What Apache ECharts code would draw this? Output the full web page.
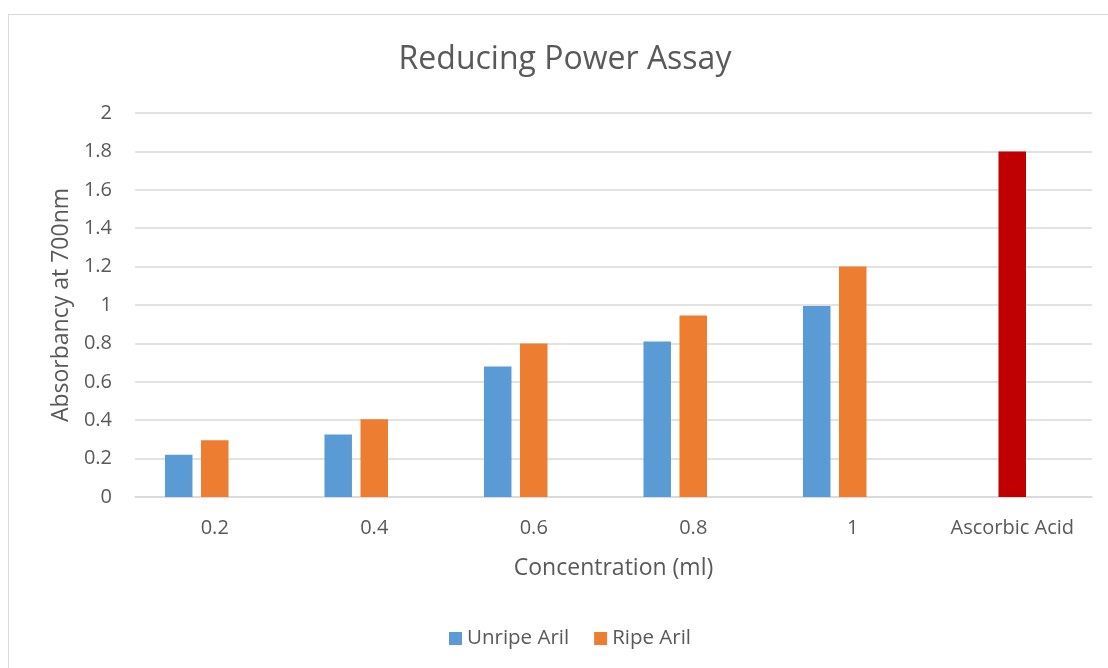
<!DOCTYPE html>
<html>
<head>
<meta charset="utf-8">
<script src="https://cdn.jsdelivr.net/npm/echarts@6/dist/echarts.min.js"></script>
<style>
  html, body { margin: 0; padding: 0; background: #fff; overflow: hidden; }
  #frame { position: absolute; left: 8px; top: 14px; width: 1200px; height: 700px;
           border-left: 1px solid #d9d9d9; border-top: 1px solid #d9d9d9; }
  #chart { position: absolute; left: 0; top: 0; width: 1130px; height: 668px; }
</style>
</head>
<body>
<div id="frame"></div>
<div id="chart"></div>
<script>
// Concentration levels plus the ascorbic acid standard
const categories = ['0.2', '0.4', '0.6', '0.8', '1', 'Ascorbic Acid'];
// Absorbance at 700 nm
const unripeAril = [0.22, 0.325, 0.68, 0.81, 0.995, null];
const ripeAril = [0.295, 0.405, 0.80, 0.945, 1.2, null];
const ascorbicAcid = [null, null, null, null, null, 1.8];
// Third (empty) column of the source sheet, keeps the bar slots in place
const spareColumn = [null, null, null, null, null, null];
const yTicks = { min: 0, max: 2, interval: 0.2 };

const FONT = 'Open Sans';
const TXT = '#595959';

const chart = echarts.init(document.getElementById('chart'));
chart.setOption({
  animation: false,
  textStyle: { fontFamily: FONT, color: TXT },
  title: {
    text: 'Reducing Power Assay',
    left: 'center', top: 39,
    textStyle: { fontFamily: FONT, fontSize: 32, fontWeight: 'normal', color: TXT }
  },
  legend: {
    data: ['Unripe Aril', 'Ripe Aril'],
    top: 623, left: 444,
    itemWidth: 13, itemHeight: 13, itemGap: 25,
    icon: 'rect',
    textStyle: { fontFamily: FONT, fontSize: 20.5, color: TXT }
  },
  grid: { left: 135, right: 38, top: 113, bottom: 171 },
  xAxis: {
    type: 'category',
    data: categories,
    name: 'Concentration (ml)',
    nameLocation: 'middle', nameGap: 60,
    nameTextStyle: { fontFamily: FONT, fontSize: 23, color: TXT },
    axisLine: { show: true, lineStyle: { color: '#d9d9d9', width: 1.5 } },
    axisTick: { show: false },
    axisLabel: { interval: 0, margin: 21, fontFamily: FONT, fontSize: 20, color: TXT }
  },
  yAxis: {
    type: 'value',
    min: yTicks.min, max: yTicks.max, interval: yTicks.interval,
    name: 'Absorbancy at 700nm',
    nameLocation: 'middle', nameGap: 62,
    nameTextStyle: { fontFamily: FONT, fontSize: 23, color: TXT },
    axisLine: { show: false },
    axisTick: { show: false },
    splitLine: { lineStyle: { color: '#d9d9d9', width: 1.5 } },
    axisLabel: { margin: 23, fontFamily: FONT, fontSize: 20, color: TXT }
  },
  series: [
    { name: 'Unripe Aril', type: 'bar', data: unripeAril, barWidth: 27.5, barGap: '31%',
      itemStyle: { color: '#5B9BD5' } },
    { name: 'Ripe Aril', type: 'bar', stack: 'mid', data: ripeAril, barWidth: 27.5, barGap: '31%',
      itemStyle: { color: '#ED7D31' } },
    { name: 'Ascorbic Acid', type: 'bar', stack: 'mid', data: ascorbicAcid, barWidth: 27.5, barGap: '31%',
      itemStyle: { color: '#C00000' } },
    { name: 'spare', type: 'bar', data: spareColumn, barWidth: 27.5, barGap: '31%' }
  ]
});
</script>
</body>
</html>
